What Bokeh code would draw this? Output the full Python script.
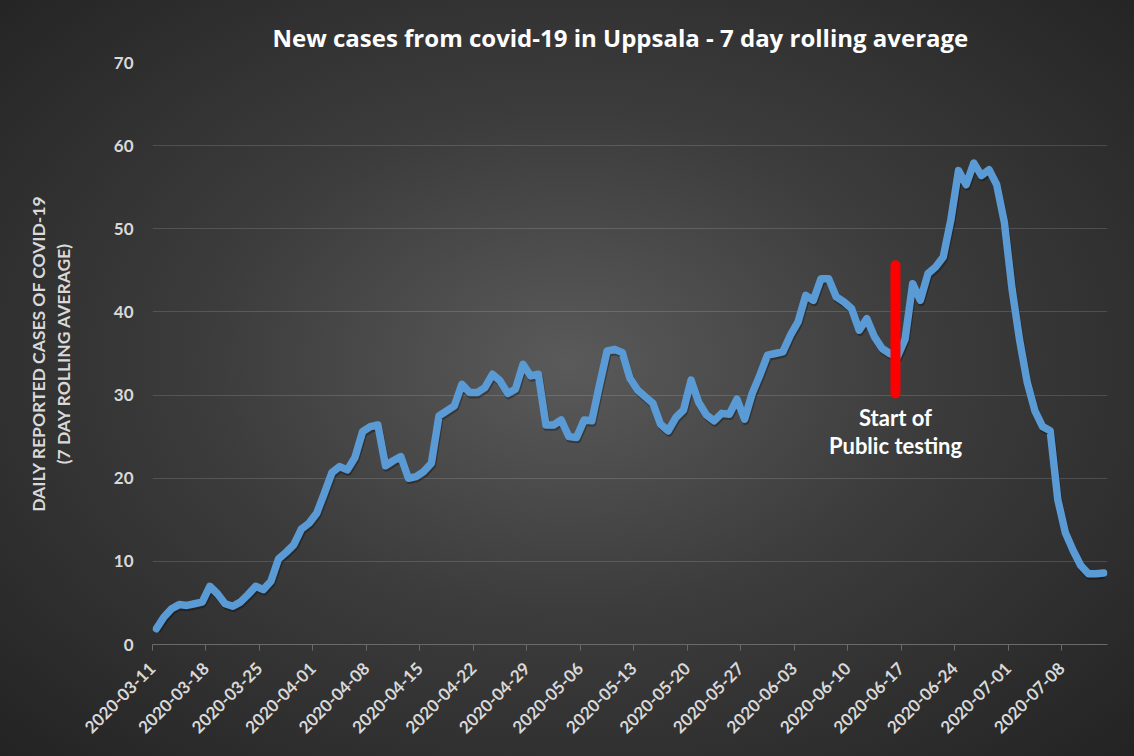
import numpy as np
import pandas as pd
from bokeh.plotting import figure
from bokeh.models import FixedTicker, Range1d, ColumnDataSource
from bokeh.core.properties import value
from bokeh.embed import file_html
from bokeh.resources import INLINE

# ---------------- data ----------------
title_text = "New cases from covid-19 in Uppsala - 7 day rolling average"
y_axis_title = "DAILY REPORTED CASES OF COVID-19\n(7 DAY ROLLING AVERAGE)"
start_date = "2020-03-11"
cases = [
    1.9, 3.3, 4.3, 4.8, 4.7, 4.9, 5.1, 7.0, 6.1, 4.9,
    4.6, 5.1, 6.0, 7.0, 6.6, 7.6, 10.3, 11.1, 12.0, 13.9,
    14.6, 15.8, 18.2, 20.7, 21.4, 21.0, 22.5, 25.6, 26.2, 26.4,
    21.5, 22.1, 22.6, 20.0, 20.2, 20.8, 21.8, 27.5, 28.1, 28.7,
    31.3, 30.3, 30.3, 30.9, 32.5, 31.7, 30.2, 30.7, 33.7, 32.3,
    32.5, 26.4, 26.4, 27.0, 25.0, 24.9, 27.0, 26.9, 31.2, 35.3,
    35.5, 35.1, 32.0, 30.6, 29.8, 29.0, 26.5, 25.7, 27.3, 28.2,
    31.8, 29.1, 27.6, 26.9, 27.8, 27.7, 29.5, 27.1, 30.2, 32.4,
    34.8, 35.0, 35.2, 37.2, 38.8, 42.0, 41.4, 44.0, 44.0, 41.8,
    41.2, 40.4, 37.8, 39.2, 37.0, 35.6, 35.0, 34.6, 36.7, 43.4,
    41.4, 44.6, 45.4, 46.6, 51.1, 57.0, 55.3, 57.9, 56.4, 57.1,
    55.3, 50.8, 42.8, 36.6, 31.5, 28.1, 26.2, 25.7, 17.4, 13.4,
    11.3, 9.5, 8.5, 8.5, 8.6,
]
label_every_days = 7
y_ticks = [0, 10, 20, 30, 40, 50, 60, 70]
testing_start_date = "2020-06-16"
testing_marker_low, testing_marker_high = 30.2, 45.6
annotation_lines = ["Start of", "Public testing"]
annotation_values = [27.3, 23.9]

# ---------------- derived ----------------
dates = pd.date_range(start_date, periods=len(cases), freq="D")
n = len(cases)
xs = np.arange(n) + 0.5
tick_idx = list(range(0, n, label_every_days))
overrides = {i: dates[i].strftime("%Y-%m-%d") for i in tick_idx}
test_idx = int((pd.Timestamp(testing_start_date) - dates[0]).days) + 0.25

src = ColumnDataSource(dict(x=xs, y=cases))

FONT = "Lato"
LABEL = "#d9d9d9"

p = figure(
    width=1134, height=756,
    x_range=Range1d(0, n), y_range=Range1d(0, 70),
    output_backend="svg", toolbar_location=None,
    min_border_left=152, min_border_right=27,
    min_border_top=62, min_border_bottom=112,
)
p.styles = {"background": "radial-gradient(ellipse at 50% 48%, #5a5a5a 0%, #3c3c3c 45%, #232323 100%)"}
p.background_fill_color = None
p.border_fill_color = None
p.outline_line_color = None

p.title.text = title_text
p.title.align = "left"
p.title.offset = 120
p.title.text_color = "white"
p.title.text_font = "Open Sans"
p.title.text_font_style = "bold"
p.title.text_font_size = "24px"
p.title.standoff = 17

# grid
p.xgrid.grid_line_color = None
p.ygrid.grid_line_color = "white"
p.ygrid.grid_line_alpha = 0.14
p.ygrid.ticker = FixedTicker(ticks=y_ticks)

# y axis
p.yaxis.ticker = FixedTicker(ticks=y_ticks)
p.yaxis.axis_line_color = None
p.yaxis.major_tick_line_color = None
p.yaxis.major_tick_out = 0
p.yaxis.major_tick_in = 0
p.yaxis.minor_tick_line_color = None
p.yaxis.minor_tick_out = 0
p.yaxis.major_label_standoff = 19
p.yaxis.major_label_text_color = LABEL
p.yaxis.major_label_text_font = FONT
p.yaxis.major_label_text_font_style = "bold"
p.yaxis.major_label_text_font_size = "17px"
p.yaxis.axis_label = y_axis_title
p.yaxis.axis_label_text_color = LABEL
p.yaxis.axis_label_text_font = FONT
p.yaxis.axis_label_text_font_style = "bold"
p.yaxis.axis_label_text_font_size = "17.5px"
p.yaxis.axis_label_standoff = 37

# x axis
p.xaxis.ticker = FixedTicker(ticks=tick_idx)
p.xaxis.major_label_overrides = overrides
p.xaxis.major_label_orientation = np.pi / 4
p.xaxis.axis_line_color = "#6a6a6a"
p.xaxis.major_tick_line_color = "#6a6a6a"
p.xaxis.major_tick_out = 6
p.xaxis.major_tick_in = 0
p.xaxis.minor_tick_line_color = None
p.xaxis.minor_tick_out = 0
p.xaxis.major_label_text_color = LABEL
p.xaxis.major_label_text_font = FONT
p.xaxis.major_label_text_font_style = "bold"
p.xaxis.major_label_text_font_size = "17px"
p.xaxis.major_label_standoff = 15

# shadow + line
shadow = ColumnDataSource(dict(x=xs + 0.12, y=np.array(cases) - 0.25))
p.line("x", "y", source=shadow, line_color="black", line_alpha=0.3, line_width=7.5, line_join="round")
p.line("x", "y", source=src, line_color="#5b9bd5", line_width=7.5, line_join="round", line_cap="round")

# testing marker
p.segment(x0=[test_idx], y0=[testing_marker_low], x1=[test_idx], y1=[testing_marker_high],
          line_color="#ff0000", line_width=10, line_cap="round")
p.text(x=[test_idx] * 2, y=annotation_values, text=annotation_lines,
       text_color="white", text_font=value(FONT), text_font_style="bold",
       text_font_size="22px", text_align="center", text_baseline="middle")

open("out.html", "w").write(file_html(p, INLINE))
